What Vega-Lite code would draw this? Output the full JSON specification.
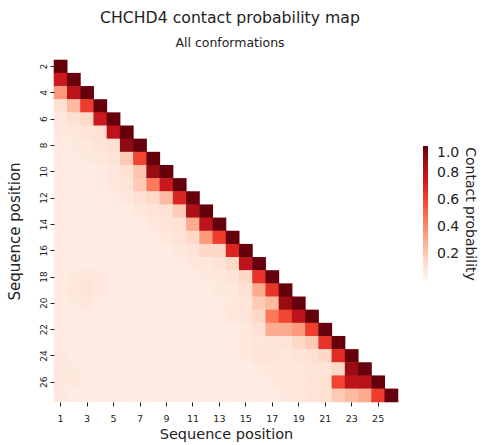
{
"$schema": "https://vega.github.io/schema/vega-lite/v6.json",
"autosize": {"type": "none"},
"padding": {"left": 54, "top": 60, "right": 89, "bottom": 43},
"width": 344,
"height": 342,
"config": {"view": {"stroke": null}, "font": "DejaVu Sans", "axis": {"labelFont": "DejaVu Sans", "titleFont": "DejaVu Sans", "labelColor": "#222", "titleColor": "#222", "tickColor": "#222"}, "legend": {"labelFont": "DejaVu Sans", "titleFont": "DejaVu Sans"}},
"title": {"text": "CHCHD4 contact probability map", "subtitle": "All conformations", "fontSize": 15.7, "fontWeight": "normal", "color": "#222", "subtitleFontSize": 12.5, "subtitleColor": "#222", "anchor": "middle", "offset": 9, "subtitlePadding": 11, "dx": 4},
"data": {"values": [
{"x":1,"y":2,"p":1},
{"x":1,"y":3,"p":0.75},{"x":2,"y":3,"p":1},
{"x":1,"y":4,"p":0.35},{"x":2,"y":4,"p":0.8},{"x":3,"y":4,"p":1},
{"x":1,"y":5,"p":0.12},{"x":2,"y":5,"p":0.25},{"x":3,"y":5,"p":0.62},{"x":4,"y":5,"p":1},
{"x":1,"y":6,"p":0.08},{"x":2,"y":6,"p":0.12},{"x":3,"y":6,"p":0.15},{"x":4,"y":6,"p":0.75},{"x":5,"y":6,"p":1},
{"x":1,"y":7,"p":0.07},{"x":2,"y":7,"p":0.08},{"x":3,"y":7,"p":0.1},{"x":4,"y":7,"p":0.12},{"x":5,"y":7,"p":0.8},{"x":6,"y":7,"p":1},
{"x":1,"y":8,"p":0.06},{"x":2,"y":8,"p":0.07},{"x":3,"y":8,"p":0.08},{"x":4,"y":8,"p":0.1},{"x":5,"y":8,"p":0.12},{"x":6,"y":8,"p":0.92},{"x":7,"y":8,"p":1},
{"x":1,"y":9,"p":0.06},{"x":2,"y":9,"p":0.06},{"x":3,"y":9,"p":0.07},{"x":4,"y":9,"p":0.08},{"x":5,"y":9,"p":0.1},{"x":6,"y":9,"p":0.2},{"x":7,"y":9,"p":0.6},{"x":8,"y":9,"p":1},
{"x":1,"y":10,"p":0.06},{"x":2,"y":10,"p":0.06},{"x":3,"y":10,"p":0.06},{"x":4,"y":10,"p":0.06},{"x":5,"y":10,"p":0.08},{"x":6,"y":10,"p":0.12},{"x":7,"y":10,"p":0.22},{"x":8,"y":10,"p":0.9},{"x":9,"y":10,"p":1},
{"x":1,"y":11,"p":0.06},{"x":2,"y":11,"p":0.06},{"x":3,"y":11,"p":0.06},{"x":4,"y":11,"p":0.06},{"x":5,"y":11,"p":0.08},{"x":6,"y":11,"p":0.1},{"x":7,"y":11,"p":0.2},{"x":8,"y":11,"p":0.45},{"x":9,"y":11,"p":0.75},{"x":10,"y":11,"p":1},
{"x":1,"y":12,"p":0.06},{"x":2,"y":12,"p":0.06},{"x":3,"y":12,"p":0.06},{"x":4,"y":12,"p":0.06},{"x":5,"y":12,"p":0.06},{"x":6,"y":12,"p":0.08},{"x":7,"y":12,"p":0.12},{"x":8,"y":12,"p":0.15},{"x":9,"y":12,"p":0.25},{"x":10,"y":12,"p":0.7},{"x":11,"y":12,"p":1},
{"x":1,"y":13,"p":0.06},{"x":2,"y":13,"p":0.06},{"x":3,"y":13,"p":0.06},{"x":4,"y":13,"p":0.06},{"x":5,"y":13,"p":0.06},{"x":6,"y":13,"p":0.06},{"x":7,"y":13,"p":0.08},{"x":8,"y":13,"p":0.1},{"x":9,"y":13,"p":0.12},{"x":10,"y":13,"p":0.2},{"x":11,"y":13,"p":0.85},{"x":12,"y":13,"p":1},
{"x":1,"y":14,"p":0.06},{"x":2,"y":14,"p":0.06},{"x":3,"y":14,"p":0.06},{"x":4,"y":14,"p":0.06},{"x":5,"y":14,"p":0.06},{"x":6,"y":14,"p":0.06},{"x":7,"y":14,"p":0.06},{"x":8,"y":14,"p":0.08},{"x":9,"y":14,"p":0.1},{"x":10,"y":14,"p":0.12},{"x":11,"y":14,"p":0.3},{"x":12,"y":14,"p":0.8},{"x":13,"y":14,"p":1},
{"x":1,"y":15,"p":0.06},{"x":2,"y":15,"p":0.06},{"x":3,"y":15,"p":0.06},{"x":4,"y":15,"p":0.06},{"x":5,"y":15,"p":0.06},{"x":6,"y":15,"p":0.06},{"x":7,"y":15,"p":0.06},{"x":8,"y":15,"p":0.06},{"x":9,"y":15,"p":0.08},{"x":10,"y":15,"p":0.1},{"x":11,"y":15,"p":0.15},{"x":12,"y":15,"p":0.35},{"x":13,"y":15,"p":0.62},{"x":14,"y":15,"p":1},
{"x":1,"y":16,"p":0.06},{"x":2,"y":16,"p":0.06},{"x":3,"y":16,"p":0.06},{"x":4,"y":16,"p":0.06},{"x":5,"y":16,"p":0.06},{"x":6,"y":16,"p":0.06},{"x":7,"y":16,"p":0.06},{"x":8,"y":16,"p":0.06},{"x":9,"y":16,"p":0.06},{"x":10,"y":16,"p":0.08},{"x":11,"y":16,"p":0.1},{"x":12,"y":16,"p":0.15},{"x":13,"y":16,"p":0.15},{"x":14,"y":16,"p":0.7},{"x":15,"y":16,"p":1},
{"x":1,"y":17,"p":0.06},{"x":2,"y":17,"p":0.06},{"x":3,"y":17,"p":0.06},{"x":4,"y":17,"p":0.06},{"x":5,"y":17,"p":0.06},{"x":6,"y":17,"p":0.06},{"x":7,"y":17,"p":0.06},{"x":8,"y":17,"p":0.06},{"x":9,"y":17,"p":0.06},{"x":10,"y":17,"p":0.06},{"x":11,"y":17,"p":0.08},{"x":12,"y":17,"p":0.08},{"x":13,"y":17,"p":0.1},{"x":14,"y":17,"p":0.15},{"x":15,"y":17,"p":0.8},{"x":16,"y":17,"p":1},
{"x":1,"y":18,"p":0.06},{"x":2,"y":18,"p":0.07},{"x":3,"y":18,"p":0.09},{"x":4,"y":18,"p":0.08},{"x":5,"y":18,"p":0.06},{"x":6,"y":18,"p":0.06},{"x":7,"y":18,"p":0.06},{"x":8,"y":18,"p":0.06},{"x":9,"y":18,"p":0.06},{"x":10,"y":18,"p":0.06},{"x":11,"y":18,"p":0.06},{"x":12,"y":18,"p":0.07},{"x":13,"y":18,"p":0.08},{"x":14,"y":18,"p":0.1},{"x":15,"y":18,"p":0.15},{"x":16,"y":18,"p":0.65},{"x":17,"y":18,"p":1},
{"x":1,"y":19,"p":0.06},{"x":2,"y":19,"p":0.08},{"x":3,"y":19,"p":0.1},{"x":4,"y":19,"p":0.08},{"x":5,"y":19,"p":0.06},{"x":6,"y":19,"p":0.06},{"x":7,"y":19,"p":0.06},{"x":8,"y":19,"p":0.06},{"x":9,"y":19,"p":0.06},{"x":10,"y":19,"p":0.06},{"x":11,"y":19,"p":0.06},{"x":12,"y":19,"p":0.06},{"x":13,"y":19,"p":0.07},{"x":14,"y":19,"p":0.08},{"x":15,"y":19,"p":0.12},{"x":16,"y":19,"p":0.3},{"x":17,"y":19,"p":0.65},{"x":18,"y":19,"p":1},
{"x":1,"y":20,"p":0.06},{"x":2,"y":20,"p":0.07},{"x":3,"y":20,"p":0.08},{"x":4,"y":20,"p":0.06},{"x":5,"y":20,"p":0.06},{"x":6,"y":20,"p":0.06},{"x":7,"y":20,"p":0.06},{"x":8,"y":20,"p":0.06},{"x":9,"y":20,"p":0.06},{"x":10,"y":20,"p":0.06},{"x":11,"y":20,"p":0.06},{"x":12,"y":20,"p":0.06},{"x":13,"y":20,"p":0.06},{"x":14,"y":20,"p":0.07},{"x":15,"y":20,"p":0.1},{"x":16,"y":20,"p":0.2},{"x":17,"y":20,"p":0.25},{"x":18,"y":20,"p":0.9},{"x":19,"y":20,"p":1},
{"x":1,"y":21,"p":0.06},{"x":2,"y":21,"p":0.06},{"x":3,"y":21,"p":0.06},{"x":4,"y":21,"p":0.06},{"x":5,"y":21,"p":0.06},{"x":6,"y":21,"p":0.06},{"x":7,"y":21,"p":0.06},{"x":8,"y":21,"p":0.06},{"x":9,"y":21,"p":0.06},{"x":10,"y":21,"p":0.06},{"x":11,"y":21,"p":0.06},{"x":12,"y":21,"p":0.06},{"x":13,"y":21,"p":0.06},{"x":14,"y":21,"p":0.08},{"x":15,"y":21,"p":0.1},{"x":16,"y":21,"p":0.15},{"x":17,"y":21,"p":0.45},{"x":18,"y":21,"p":0.6},{"x":19,"y":21,"p":0.8},{"x":20,"y":21,"p":1},
{"x":1,"y":22,"p":0.06},{"x":2,"y":22,"p":0.06},{"x":3,"y":22,"p":0.06},{"x":4,"y":22,"p":0.06},{"x":5,"y":22,"p":0.06},{"x":6,"y":22,"p":0.06},{"x":7,"y":22,"p":0.06},{"x":8,"y":22,"p":0.06},{"x":9,"y":22,"p":0.06},{"x":10,"y":22,"p":0.06},{"x":11,"y":22,"p":0.06},{"x":12,"y":22,"p":0.06},{"x":13,"y":22,"p":0.06},{"x":14,"y":22,"p":0.06},{"x":15,"y":22,"p":0.08},{"x":16,"y":22,"p":0.12},{"x":17,"y":22,"p":0.3},{"x":18,"y":22,"p":0.3},{"x":19,"y":22,"p":0.35},{"x":20,"y":22,"p":0.62},{"x":21,"y":22,"p":1},
{"x":1,"y":23,"p":0.06},{"x":2,"y":23,"p":0.06},{"x":3,"y":23,"p":0.06},{"x":4,"y":23,"p":0.06},{"x":5,"y":23,"p":0.06},{"x":6,"y":23,"p":0.06},{"x":7,"y":23,"p":0.06},{"x":8,"y":23,"p":0.06},{"x":9,"y":23,"p":0.06},{"x":10,"y":23,"p":0.06},{"x":11,"y":23,"p":0.06},{"x":12,"y":23,"p":0.06},{"x":13,"y":23,"p":0.06},{"x":14,"y":23,"p":0.06},{"x":15,"y":23,"p":0.07},{"x":16,"y":23,"p":0.09},{"x":17,"y":23,"p":0.1},{"x":18,"y":23,"p":0.1},{"x":19,"y":23,"p":0.15},{"x":20,"y":23,"p":0.2},{"x":21,"y":23,"p":0.65},{"x":22,"y":23,"p":1},
{"x":1,"y":24,"p":0.07},{"x":2,"y":24,"p":0.06},{"x":3,"y":24,"p":0.06},{"x":4,"y":24,"p":0.06},{"x":5,"y":24,"p":0.06},{"x":6,"y":24,"p":0.06},{"x":7,"y":24,"p":0.06},{"x":8,"y":24,"p":0.06},{"x":9,"y":24,"p":0.06},{"x":10,"y":24,"p":0.06},{"x":11,"y":24,"p":0.06},{"x":12,"y":24,"p":0.06},{"x":13,"y":24,"p":0.06},{"x":14,"y":24,"p":0.06},{"x":15,"y":24,"p":0.07},{"x":16,"y":24,"p":0.1},{"x":17,"y":24,"p":0.1},{"x":18,"y":24,"p":0.08},{"x":19,"y":24,"p":0.1},{"x":20,"y":24,"p":0.12},{"x":21,"y":24,"p":0.15},{"x":22,"y":24,"p":0.68},{"x":23,"y":24,"p":1},
{"x":1,"y":25,"p":0.08},{"x":2,"y":25,"p":0.07},{"x":3,"y":25,"p":0.06},{"x":4,"y":25,"p":0.06},{"x":5,"y":25,"p":0.06},{"x":6,"y":25,"p":0.06},{"x":7,"y":25,"p":0.06},{"x":8,"y":25,"p":0.06},{"x":9,"y":25,"p":0.06},{"x":10,"y":25,"p":0.06},{"x":11,"y":25,"p":0.06},{"x":12,"y":25,"p":0.06},{"x":13,"y":25,"p":0.06},{"x":14,"y":25,"p":0.06},{"x":15,"y":25,"p":0.06},{"x":16,"y":25,"p":0.07},{"x":17,"y":25,"p":0.08},{"x":18,"y":25,"p":0.08},{"x":19,"y":25,"p":0.08},{"x":20,"y":25,"p":0.1},{"x":21,"y":25,"p":0.1},{"x":22,"y":25,"p":0.15},{"x":23,"y":25,"p":0.9},{"x":24,"y":25,"p":1},
{"x":1,"y":26,"p":0.08},{"x":2,"y":26,"p":0.07},{"x":3,"y":26,"p":0.06},{"x":4,"y":26,"p":0.06},{"x":5,"y":26,"p":0.06},{"x":6,"y":26,"p":0.06},{"x":7,"y":26,"p":0.06},{"x":8,"y":26,"p":0.06},{"x":9,"y":26,"p":0.06},{"x":10,"y":26,"p":0.06},{"x":11,"y":26,"p":0.06},{"x":12,"y":26,"p":0.06},{"x":13,"y":26,"p":0.06},{"x":14,"y":26,"p":0.06},{"x":15,"y":26,"p":0.06},{"x":16,"y":26,"p":0.06},{"x":17,"y":26,"p":0.07},{"x":18,"y":26,"p":0.08},{"x":19,"y":26,"p":0.08},{"x":20,"y":26,"p":0.1},{"x":21,"y":26,"p":0.12},{"x":22,"y":26,"p":0.6},{"x":23,"y":26,"p":0.8},{"x":24,"y":26,"p":0.82},{"x":25,"y":26,"p":1},
{"x":1,"y":27,"p":0.07},{"x":2,"y":27,"p":0.06},{"x":3,"y":27,"p":0.06},{"x":4,"y":27,"p":0.06},{"x":5,"y":27,"p":0.06},{"x":6,"y":27,"p":0.06},{"x":7,"y":27,"p":0.06},{"x":8,"y":27,"p":0.06},{"x":9,"y":27,"p":0.06},{"x":10,"y":27,"p":0.06},{"x":11,"y":27,"p":0.06},{"x":12,"y":27,"p":0.06},{"x":13,"y":27,"p":0.06},{"x":14,"y":27,"p":0.06},{"x":15,"y":27,"p":0.06},{"x":16,"y":27,"p":0.06},{"x":17,"y":27,"p":0.06},{"x":18,"y":27,"p":0.07},{"x":19,"y":27,"p":0.08},{"x":20,"y":27,"p":0.1},{"x":21,"y":27,"p":0.12},{"x":22,"y":27,"p":0.2},{"x":23,"y":27,"p":0.25},{"x":24,"y":27,"p":0.3},{"x":25,"y":27,"p":0.62},{"x":26,"y":27,"p":1}
]},
"mark": {"type": "rect", "width": {"band": 1.04}, "height": {"band": 1.04}},
"encoding": {
"x": {"field": "x", "type": "ordinal", "scale": {"domain": [1,2,3,4,5,6,7,8,9,10,11,12,13,14,15,16,17,18,19,20,21,22,23,24,25,26], "paddingInner": 0, "paddingOuter": 0},
 "axis": {"values": [1,3,5,7,9,11,13,15,17,19,21,23,25], "labelAngle": 0, "title": "Sequence position", "domain": false, "tickSize": 4, "labelFontSize": 9.5, "titleFontSize": 14.5, "titleFontWeight": "normal", "labelPadding": 7, "titlePadding": 5}},
"y": {"field": "y", "type": "ordinal", "scale": {"domain": [2,3,4,5,6,7,8,9,10,11,12,13,14,15,16,17,18,19,20,21,22,23,24,25,26,27], "paddingInner": 0, "paddingOuter": 0},
 "axis": {"values": [2,4,6,8,10,12,14,16,18,20,22,24,26], "labelAngle": 270, "labelAlign": "center", "labelBaseline": "bottom", "title": "Sequence position", "domain": false, "tickSize": 4, "labelFontSize": 9, "titleFontSize": 15, "titleFontWeight": "normal", "labelPadding": 2, "titlePadding": 17}},
"color": {"field": "p", "type": "quantitative", "scale": {"type": "linear", "domain": [0, 0.125, 0.25, 0.375, 0.5, 0.625, 0.75, 0.875, 1], "range": ["#fff5f0","#fee0d2","#fcbba1","#fc9272","#fb6a4a","#ef3b2c","#cb181d","#a50f15","#67000d"], "interpolate": "rgb"},
 "legend": {"orient": "none", "legendX": 369, "legendY": 86, "direction": "vertical", "gradientLength": 135, "gradientThickness": 5, "values": [0.2, 0.4, 0.6, 0.8, 1.0], "format": ".1f", "labelOverlap": false, "labelBaseline": "middle", "labelFontSize": 14, "labelOffset": 9, "labelColor": "#222", "title": "Contact probability", "titleOrient": "right", "titleAngle": 270, "titleFontSize": 14, "titleFontWeight": "normal", "titleColor": "#222", "titleAnchor": "middle", "titlePadding": 4}}
}
}
